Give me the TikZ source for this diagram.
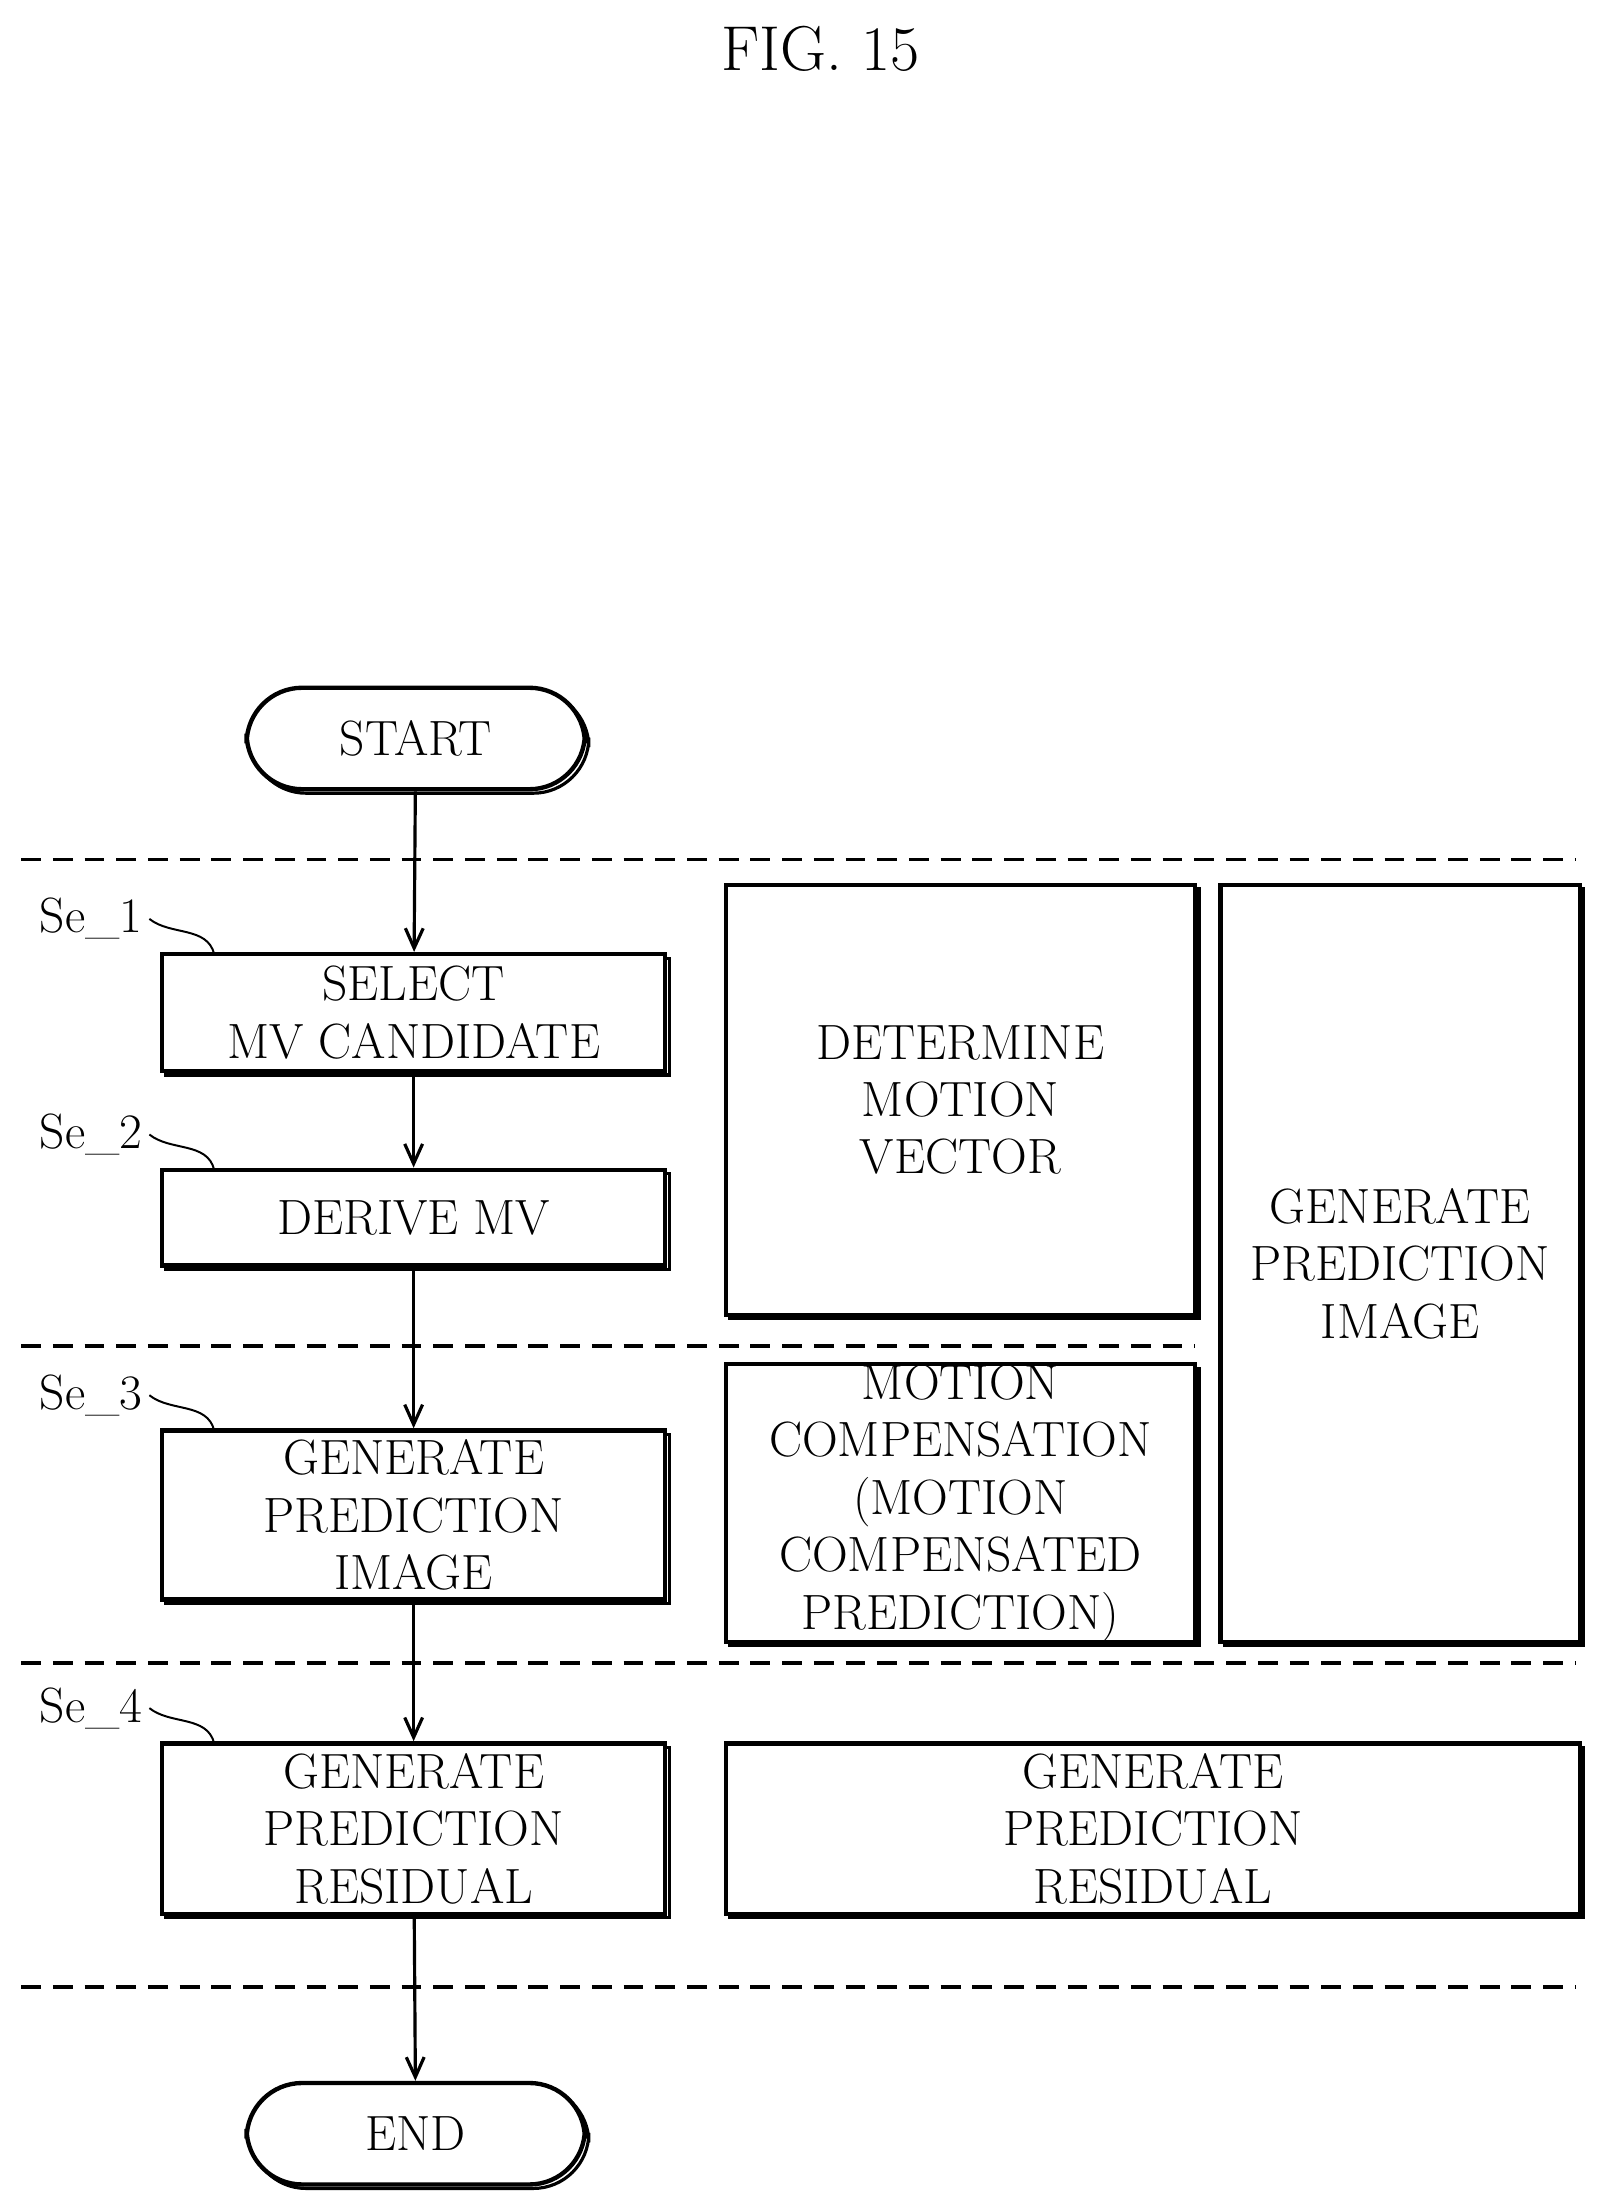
\documentclass[tikz,border=0pt]{standalone}
\usepackage{tikz}
\usetikzlibrary{positioning,arrows.meta,shadows}
\tikzset{
	box/.style={draw, line width=2.2pt, align=center, inner sep=0pt, font=\fontsize{25}{29}\selectfont, fill=white,
		copy shadow={shadow xshift=2pt, shadow yshift=-2pt, draw, line width=1.6pt}},
	term/.style={box, rounded corners=28pt},
	flow/.style={line width=1.6pt, -{Straight Barb[length=10pt, width=9pt]}},
	sep/.style={line width=1.8pt, dash pattern=on 10pt off 6pt},
	steplabel/.style={font=\fontsize{25}{29}\selectfont, anchor=east},
}
\begin{document}
\begin{tikzpicture}[x=0.025cm, y=-0.025cm]
	\useasboundingbox (0,0) rectangle (1140,1566);
	\node[font=\fontsize{32}{36}\selectfont] (fig) at (582,35) {FIG. 15};
	% flow column
	\node[term, minimum width=240*0.025cm, minimum height=72*0.025cm] (start) at (295,524) {START};
	\node[box, minimum width=357*0.025cm, minimum height=83*0.025cm] (s1) at (293.5,718.5) {SELECT\\MV CANDIDATE};
	\node[box, minimum width=357*0.025cm, minimum height=68*0.025cm] (s2) at (293.5,864) {DERIVE MV};
	\node[box, minimum width=357*0.025cm, minimum height=120*0.025cm] (s3) at (293.5,1075) {GENERATE\\PREDICTION\\IMAGE};
	\node[box, minimum width=357*0.025cm, minimum height=121*0.025cm] (s4) at (293.5,1297.5) {GENERATE\\PREDICTION\\RESIDUAL};
	\node[term, minimum width=240*0.025cm, minimum height=72*0.025cm] (end) at (295,1514) {END};
	\draw[flow] (start) -- (s1);
	\draw[flow] (s1) -- (s2);
	\draw[flow] (s2) -- (s3);
	\draw[flow] (s3) -- (s4);
	\draw[flow] (s4) -- (end);
	% right column
	\node[box, minimum width=333*0.025cm, minimum height=305*0.025cm] (mv) at (681.5,780.5) {DETERMINE\\MOTION\\VECTOR};
	\node[box, minimum width=333*0.025cm, minimum height=197*0.025cm] (mc) at (681.5,1066.5) {MOTION\\COMPENSATION\\(MOTION\\COMPENSATED\\PREDICTION)};
	\node[box, minimum width=255*0.025cm, minimum height=537*0.025cm] (pi) at (993.5,896.5) {GENERATE\\PREDICTION\\IMAGE};
	\node[box, minimum width=606*0.025cm, minimum height=121*0.025cm] (pr) at (818,1297.5) {GENERATE\\PREDICTION\\RESIDUAL};
	% separators
	\draw[sep] (15,610) -- (1118,610);
	\draw[sep] (15,955) -- (848,955);
	\draw[sep] (15,1180) -- (1118,1180);
	\draw[sep] (15,1410) -- (1118,1410);
	% step labels
	\foreach \n/\y in {1/677,2/830,3/1015,4/1237}{
		\node[steplabel] (se\n) at (106,\y-25) {Se\_\n};
		\draw[line width=1pt] (se\n.east) .. controls +(15,12) and +(-5,-20) .. (152,\y);
	}
\end{tikzpicture}
\end{document}
